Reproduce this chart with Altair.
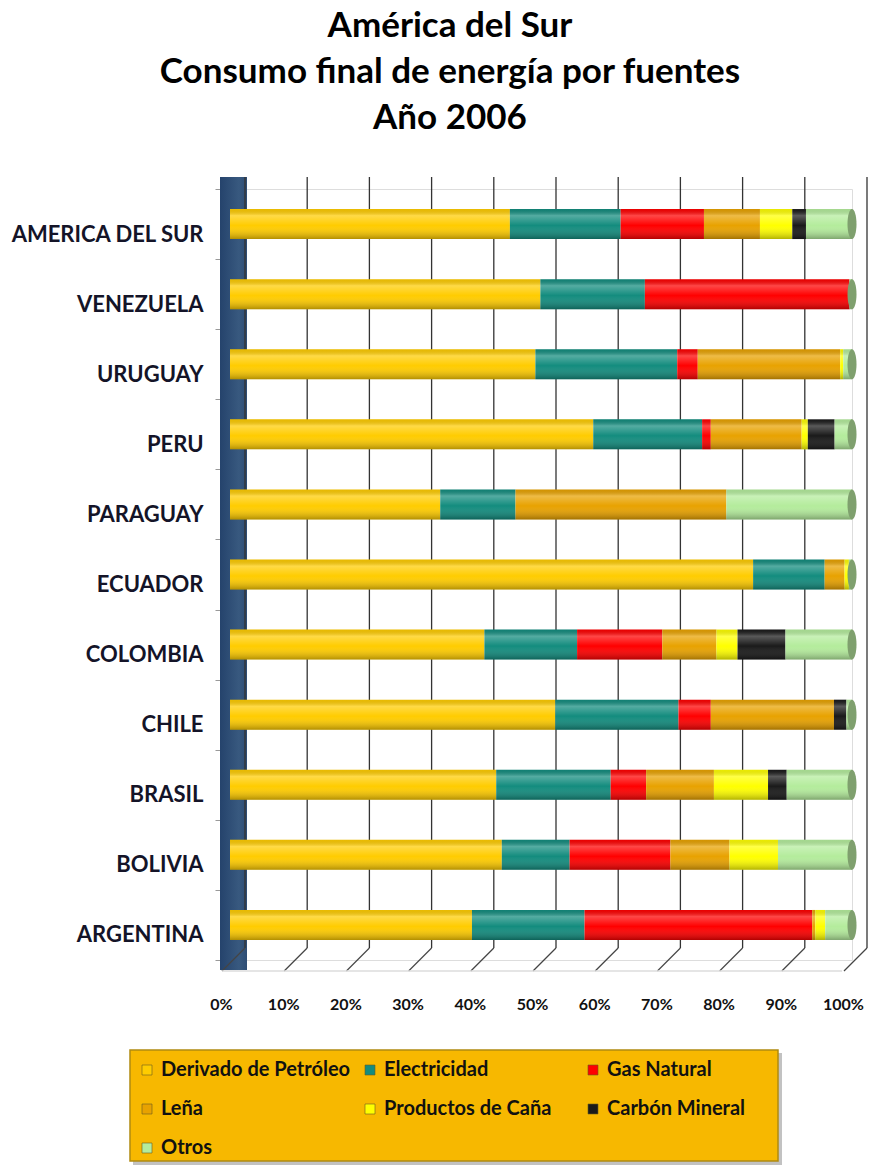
import altair as alt
import pandas as pd

# Países (de arriba hacia abajo) y participación (%) de cada fuente en el consumo final
paises = ["AMERICA DEL SUR", "VENEZUELA", "URUGUAY", "PERU", "PARAGUAY", "ECUADOR",
          "COLOMBIA", "CHILE", "BRASIL", "BOLIVIA", "ARGENTINA"]

fuentes = ["Derivado de Petróleo", "Electricidad", "Gas Natural", "Leña",
           "Productos de Caña", "Carbón Mineral", "Otros"]

derivado = [45.0, 49.9, 49.1, 58.4, 33.8, 84.1, 40.9, 52.3, 42.8, 43.7, 38.9]
electricidad = [17.8, 16.8, 22.8, 17.5, 12.1, 11.5, 14.9, 19.8, 18.4, 10.9, 18.1]
gas_natural = [13.4, 32.9, 3.3, 1.4, 0.0, 0.0, 13.7, 5.2, 5.7, 16.2, 36.6]
lena = [9.0, 0.0, 22.9, 14.6, 33.9, 3.2, 8.7, 19.8, 10.9, 9.5, 0.5]
cana = [5.2, 0.0, 0.5, 1.0, 0.0, 0.7, 3.4, 0.0, 8.7, 7.8, 1.6]
carbon = [2.2, 0.0, 0.0, 4.3, 0.0, 0.0, 7.7, 2.0, 3.0, 0.0, 0.0]
otros = [7.4, 0.4, 1.4, 2.8, 20.2, 0.5, 10.7, 0.9, 10.5, 11.9, 4.3]

colores = ["#FFCC00", "#138C7E", "#FF0000", "#E8A200", "#FFFF00", "#1A1A1A", "#B4EC9C"]

marcas_x = [0, 10, 20, 30, 40, 50, 60, 70, 80, 90, 100]

series = [derivado, electricidad, gas_natural, lena, cana, carbon, otros]
filas = []
for j, (fuente, valores) in enumerate(zip(fuentes, series)):
    for pais, v in zip(paises, valores):
        filas.append({"pais": pais, "fuente": fuente, "orden": j, "valor": v})
df = pd.DataFrame(filas)
df_paises = pd.DataFrame({"pais": paises})
df_marcas = pd.DataFrame({"marca": marcas_x})
df_uno = pd.DataFrame({"k": [0]})

W, H = 622, 771
FONT = "Lato"

escala_y = alt.Scale(paddingInner=0, paddingOuter=0)
escala_x = alt.Scale(domain=[0, 100], nice=False)
y_simple = alt.Y("pais:N", sort=paises, title=None, scale=escala_y)

# pared lateral izquierda del gráfico 3D
pared = alt.Chart(df_uno).mark_rect(
    color=alt.Gradient(gradient="linear", x1=0, x2=1, y1=0, y2=0,
                       stops=[alt.GradientStop(color="#25436C", offset=0),
                              alt.GradientStop(color="#38597F", offset=0.7),
                              alt.GradientStop(color="#2E4D74", offset=1)])
).encode(x=alt.value(-10), x2=alt.value(17), y=alt.value(-12), y2=alt.value(H + 10))

# líneas de la pared del fondo
grilla = alt.Chart(df_marcas).mark_rule(color="#333333", strokeWidth=1.3, xOffset=15).encode(
    x=alt.X("marca:Q", title=None, scale=escala_x),
    y=alt.value(-12), y2=alt.value(H - 12))

# líneas diagonales del piso
piso_diag = alt.Chart(df_marcas).mark_rule(color="#444444", strokeWidth=1.2,
                                           xOffset=-8, x2Offset=15).encode(
    x=alt.X("marca:Q", title=None, scale=escala_x), x2="marca:Q",
    y=alt.value(H + 11), y2=alt.value(H - 12))

piso = alt.Chart(df_uno).mark_rule(color="#DDDDDD", strokeWidth=1.5,
                                   xOffset=-8, x2Offset=-10).encode(
    x=alt.datum(0), x2=alt.datum(100), y=alt.value(H + 11))

# recuadro dorado de la leyenda, con sombra
caja_sombra = alt.Chart(df_uno).mark_rect(color="#9A9A9A", opacity=0.6).encode(
    x=alt.value(-97), x2=alt.value(552), y=alt.value(864), y2=alt.value(976))
caja = alt.Chart(df_uno).mark_rect(color="#F7B800", stroke="#B08A10", strokeWidth=1.5).encode(
    x=alt.value(-100), x2=alt.value(548), y=alt.value(861), y2=alt.value(972))

barras = alt.Chart(df).mark_bar(size=30).encode(
    x=alt.X("valor:Q", stack="zero", title=None, scale=escala_x,
            axis=alt.Axis(values=marcas_x, labelExpr="datum.value + '%'", grid=False,
                          domain=False, ticks=False, labelPadding=36, labelOffset=-9,
                          labelFlush=False, labelOverlap=False,
                          labelFont=FONT, labelFontSize=16, labelFontWeight="bold",
                          labelColor="#111111", title=None)),
    y=alt.Y("pais:N", sort=paises, title=None, scale=escala_y,
            axis=alt.Axis(domain=False, tickBand="extent", tickOffset=10, tickSize=5,
                          tickColor="#999999", labelPadding=12, offset=10, grid=False,
                          labelOffset=10, labelLimit=300,
                          labelFont=FONT, labelFontSize=22, labelFontWeight="bold",
                          labelColor="#141428", title=None)),
    color=alt.Color("fuente:N", sort=fuentes,
                    scale=alt.Scale(domain=fuentes, range=colores),
                    legend=alt.Legend(title=None, orient="none", legendX=-100, legendY=864,
                                      direction="horizontal", columns=3, gridAlign="all",
                                      symbolType="square", symbolSize=100,
                                      symbolStrokeWidth=0.6, symbolStrokeColor="#6A5A20",
                                      labelFont=FONT, labelFontSize=20, labelFontWeight="bold",
                                      labelColor="#111111", labelLimit=300,
                                      rowPadding=19, columnPadding=9, padding=7,
                                      labelOffset=4)),
    order=alt.Order("orden:Q"),
)

# sombreado cilíndrico sobre cada barra
sombra = alt.Chart(df_paises).mark_bar(
    size=30,
    color=alt.Gradient(gradient="linear", x1=0, x2=0, y1=0, y2=1,
                       stops=[alt.GradientStop(color="rgba(0,0,0,0.08)", offset=0),
                              alt.GradientStop(color="rgba(255,255,255,0.28)", offset=0.22),
                              alt.GradientStop(color="rgba(255,255,255,0)", offset=0.55),
                              alt.GradientStop(color="rgba(0,0,0,0.30)", offset=1)])
).encode(x=alt.datum(0), x2=alt.datum(100), y=y_simple)

# tapa elíptica del extremo derecho
elipse = "M0,-1A0.3,1,0,1,1,0,1A0.3,1,0,1,1,0,-1Z"
tapa = alt.Chart(df_paises).mark_point(shape=elipse, filled=True, size=900,
                                       color="#7FA06E", opacity=1).encode(
    x=alt.datum(100), y=y_simple)

chart = alt.layer(pared, grilla, piso_diag, piso, caja_sombra, caja,
                  barras, sombra, tapa).properties(
    width=W, height=H,
    autosize=alt.AutoSizeParams(type="none"),
    padding={"left": 230, "top": 189, "right": 23, "bottom": 208},
    title=alt.TitleParams(
        text=["América del Sur", "Consumo final de energía por fuentes", "Año 2006"],
        font=FONT, fontSize=35, fontWeight="bold", color="#000000",
        lineHeight=46, anchor="middle", frame="group", dx=-91, offset=40),
).configure_view(strokeWidth=0, stroke="transparent", strokeOpacity=0).configure(
    background="white")

chart.save("out.html", embed_options={"renderer": "svg", "actions": False})
